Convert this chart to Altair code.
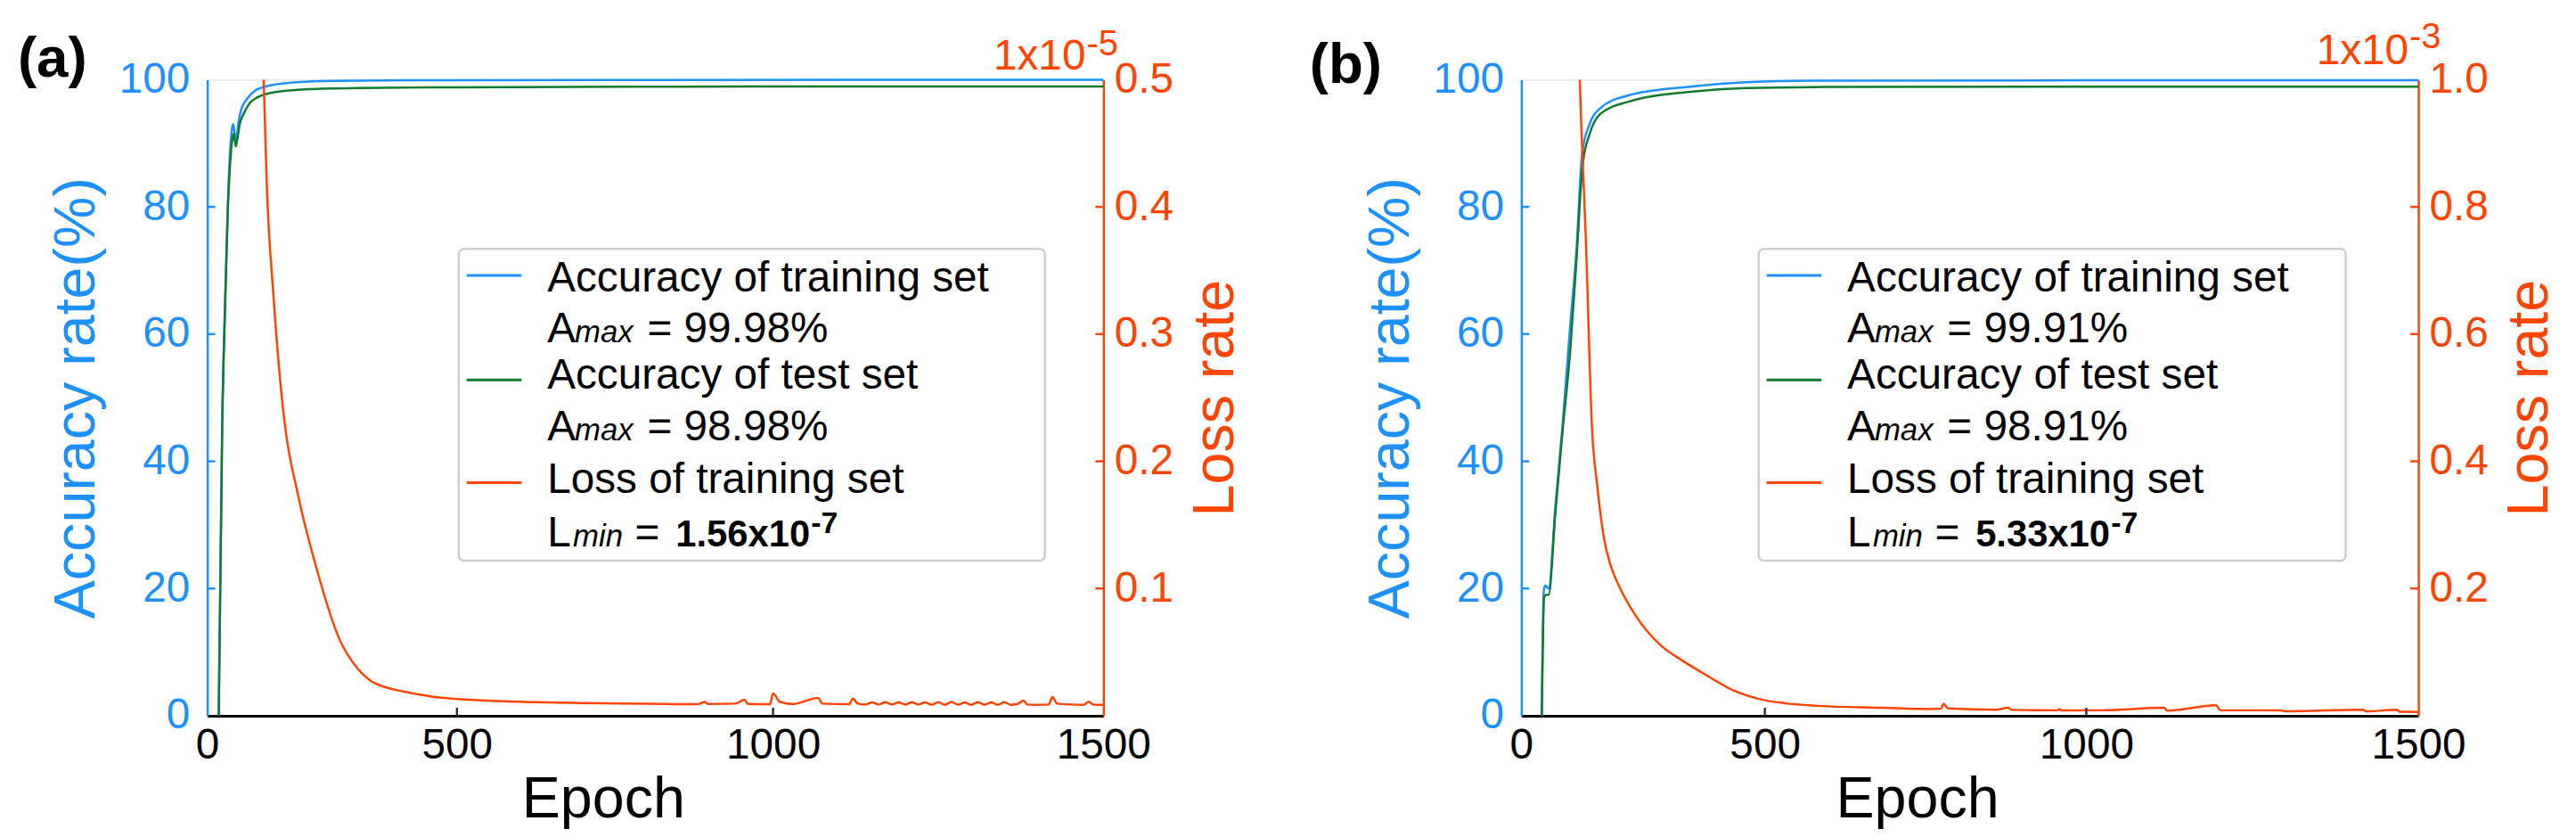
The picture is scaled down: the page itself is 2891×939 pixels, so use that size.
import altair as alt
import pandas as pd

FONT = "Liberation Sans"
BLUE = "#1E90FF"
GREEN = "#127A2C"
ORANGE = "#FF4500"

# ---------------- data, panel (a) ----------------
a_train_epoch = [23, 30, 36, 41, 46, 50, 52, 55, 58, 62, 68, 80, 96, 115, 140, 180, 250, 400, 800, 1500]
a_train_acc = [0, 46, 66, 80, 89, 92.5, 93, 91.5, 90.5, 93, 95.3, 97, 98.3, 98.9, 99.3, 99.6, 99.8, 99.9, 99.95, 99.98]
a_test_epoch = [23, 30, 36, 41, 46, 50, 53, 57, 60, 65, 72, 85, 100, 120, 150, 200, 300, 500, 800, 1200, 1500]
a_test_acc = [0, 46, 65, 79, 87, 90.5, 91.5, 89.5, 90.5, 93, 94.5, 96.3, 97.2, 97.8, 98.2, 98.5, 98.7, 98.8, 98.9, 98.95, 98.95]
a_loss_epoch = [100, 113, 119, 133, 154, 181, 218, 266, 295, 325, 360, 393, 450, 520, 600, 700, 829, 880, 892, 897,
                 940, 955, 960, 995, 1000, 1010, 1030, 1068, 1075, 1115, 1121, 1128, 1140, 1150, 1160, 1170, 1180,
                 1190, 1200, 1210, 1220, 1230, 1240, 1250, 1260, 1270, 1280, 1290, 1300, 1310, 1320, 1330, 1340,
                 1350, 1360, 1370, 1379, 1385, 1400, 1417, 1423, 1430, 1450, 1470, 1478, 1485, 1500]
a_loss = [0.65, 0.50, 0.42, 0.328, 0.233, 0.175, 0.117, 0.059, 0.040, 0.028, 0.022, 0.019, 0.015, 0.0125, 0.011,
          0.010, 0.0092, 0.009, 0.0108, 0.0092, 0.0095, 0.0125, 0.0093, 0.009, 0.0175, 0.011, 0.0092, 0.014,
          0.0095, 0.009, 0.0135, 0.0095, 0.0088, 0.0105, 0.0088, 0.0106, 0.0088, 0.0105, 0.0087, 0.0106, 0.0088,
          0.0104, 0.0087, 0.0106, 0.0086, 0.0108, 0.0087, 0.0104, 0.0086, 0.0107, 0.0087, 0.0104, 0.0086, 0.0106,
          0.0086, 0.0092, 0.0118, 0.0088, 0.0086, 0.0088, 0.0146, 0.0095, 0.0088, 0.0086, 0.011, 0.0087, 0.0085]
a_loss_ticks = [0.1, 0.2, 0.3, 0.4, 0.5]
a_legend = ["Accuracy of training set", "99.98%", "Accuracy of test set", "98.98%", "Loss of training set", "1.56x10", "-7"]

# ---------------- data, panel (b) ----------------
b_train_epoch = [42, 46, 49, 56, 70, 85, 100, 113, 125, 140, 162, 218, 347, 462, 600, 1000, 1500]
b_train_acc = [0, 19.5, 20.5, 20, 33, 46, 61, 73, 88.5, 93, 95.5, 97.5, 98.9, 99.6, 99.85, 99.9, 99.91]
b_test_epoch = [42, 47, 52, 56, 70, 85, 100, 113, 126, 140, 162, 218, 347, 462, 600, 1000, 1500]
b_test_acc = [0, 18.7, 19, 19, 32, 45, 57, 71.4, 86.7, 91.4, 94.6, 96.5, 98.1, 98.7, 98.85, 98.9, 98.91]
b_loss_epoch = [110, 120, 133, 145, 156, 169, 183, 200, 235, 287, 330, 375, 435, 496, 583, 682, 759, 774, 778, 785,
                860, 878, 885, 955, 958, 962, 1024, 1117, 1122, 1195, 1202, 1267, 1293, 1300, 1417, 1421, 1468,
                1472, 1500]
b_loss = [1.3, 1.0, 0.737, 0.454, 0.361, 0.282, 0.237, 0.205, 0.157, 0.110, 0.087, 0.066, 0.040, 0.025, 0.0155,
          0.0125, 0.0105, 0.011, 0.019, 0.0115, 0.0095, 0.0125, 0.0092, 0.0085, 0.0105, 0.0082, 0.0085, 0.0125,
          0.008, 0.0165, 0.0085, 0.0085, 0.0082, 0.007, 0.0095, 0.0068, 0.0095, 0.0062, 0.006]
b_loss_ticks = [0.2, 0.4, 0.6, 0.8, 1.0]
b_legend = ["Accuracy of training set", "99.91%", "Accuracy of test set", "98.91%", "Loss of training set", "5.33x10", "-7"]

x_ticks = [0, 500, 1000, 1500]
acc_ticks = [0, 20, 40, 60, 80, 100]

H = 718


def txt(s, x, y, size, color="black", weight="normal", style="normal", align="left", font=FONT):
    return alt.Chart(alt.Data(values=[{}])).mark_text(
        text=s, fontSize=size, color=color, fontWeight=weight, fontStyle=style,
        align=align, baseline="alphabetic", font=font
    ).encode(x=alt.value(x), y=alt.value(y))


def panel(tag, tag_pos, exp, exp_pos, tr_e, tr_a, te_e, te_a, lo_e, lo_v, lo_ticks, leg, x_range, W, lg):
    xscale = alt.Scale(domain=x_ticks, range=x_range, nice=False, zero=False)
    xaxis = alt.Axis(values=x_ticks, format="d", labelFontSize=48, labelFont=FONT, labelColor="black",
                     labelPadding=10, labelFlush=False, ticks=False, tickSize=0, domainColor="black",
                     domainWidth=3, title="Epoch", titleFontSize=65, titleFont=FONT, titleFontWeight="normal",
                     titleColor="black", titleX=447, titleY=114, titleBaseline="alphabetic", titleAlign="center",
                     grid=False, labelOverlap=False)
    xenc = alt.X("epoch:Q", scale=xscale, axis=xaxis)
    acc_scale = alt.Scale(domain=[0, 100], nice=False, zero=False)
    loss_max = lo_ticks[-1]
    loss_scale = alt.Scale(domain=[0, loss_max], nice=False, zero=False)
    left_axis = alt.Axis(values=acc_ticks, labelFontSize=48, labelFont=FONT, labelColor=BLUE, labelPadding=20,
                         ticks=False, tickSize=0, domainColor=BLUE, domainWidth=2.5, title="Accuracy rate(%)",
                         titleColor=BLUE, titleFontSize=65, titleFont=FONT, titleFontWeight="normal",
                         titlePadding=14, grid=False, labelFlush=False)
    right_axis = alt.Axis(orient="right", values=lo_ticks, format=".1f", labelFontSize=48, labelFont=FONT,
                          labelColor=ORANGE, labelPadding=12, ticks=False, tickSize=0, domainColor=ORANGE,
                          domainWidth=2.5, title="Loss rate", titleColor=ORANGE, titleFontSize=65, titleFont=FONT,
                          titleFontWeight="normal", titleAngle=270, titleBaseline="top", titlePadding=16,
                          grid=False, labelFlush=False)

    train = alt.Chart(pd.DataFrame({"epoch": tr_e, "v": tr_a})).mark_line(
        color=BLUE, strokeWidth=2.5, interpolate="monotone").encode(
        x=xenc, y=alt.Y("v:Q", scale=acc_scale, axis=left_axis))
    test = alt.Chart(pd.DataFrame({"epoch": te_e, "v": te_a})).mark_line(
        color=GREEN, strokeWidth=2.5, interpolate="monotone").encode(
        x=xenc, y=alt.Y("v:Q", scale=acc_scale, axis=None))
    loss = alt.Chart(pd.DataFrame({"epoch": lo_e, "v": lo_v})).mark_line(
        color=ORANGE, strokeWidth=2.5, clip=True, interpolate="monotone").encode(
        x=xenc, y=alt.Y("v:Q", scale=loss_scale, axis=right_axis))

    lt = alt.Chart(pd.DataFrame({"t": acc_ticks[1:-1]})).mark_rule(color=BLUE, strokeWidth=2.5).encode(
        y=alt.Y("t:Q", scale=acc_scale, axis=None), x=alt.value(0), x2=alt.value(9))
    rt = alt.Chart(pd.DataFrame({"t": lo_ticks[:-1]})).mark_rule(color=ORANGE, strokeWidth=2.5).encode(
        y=alt.Y("t:Q", scale=loss_scale, axis=None), x=alt.value(W - 9), x2=alt.value(W))
    bt = alt.Chart(pd.DataFrame({"epoch": x_ticks[1:-1]})).mark_rule(color="#333333", strokeWidth=2.5).encode(
        x=xenc, y=alt.value(H - 9), y2=alt.value(H))

    bx0, bx1, tx = lg
    box = alt.Chart(alt.Data(values=[{}])).mark_rect(fill="white", stroke="#cfcfcf", strokeWidth=2.5,
                                                     cornerRadius=6).encode(
        x=alt.value(bx0), x2=alt.value(bx1), y=alt.value(191), y2=alt.value(543))
    lx0 = bx0 + 9
    lx1 = bx0 + 71

    def sample(color, y):
        return alt.Chart(alt.Data(values=[{}])).mark_rule(color=color, strokeWidth=3).encode(
            x=alt.value(lx0), x2=alt.value(lx1), y=alt.value(y))

    layers = [train, test, loss, lt, rt, bt, box,
              sample(BLUE, 221), sample(GREEN, 339), sample(ORANGE, 455),
              txt(leg[0], tx, 239, 48),
              txt("A", tx, 296, 48), txt("max", tx + 31, 296, 35, style="italic"), txt("= " + leg[1], tx + 113, 296, 48),
              txt(leg[2], tx, 349, 48),
              txt("A", tx, 407, 48), txt("max", tx + 31, 407, 35, style="italic"), txt("= " + leg[3], tx + 113, 407, 48),
              txt(leg[4], tx, 467, 48),
              txt("L", tx, 527, 48), txt("min", tx + 29, 527, 35, style="italic"), txt("=", tx + 99, 527, 48),
              txt(leg[5], tx + 145, 527, 42, weight="bold"), txt(leg[6], tx + 298, 512, 34, weight="bold"),
              txt(tag, tag_pos[0], tag_pos[1], 64, weight="bold"),
              txt("1x10", exp_pos[0], exp_pos[1], 48, color=ORANGE, align="right"),
              txt(exp, exp_pos[0] + 1, exp_pos[2], 40, color=ORANGE)]
    return alt.layer(*layers).resolve_scale(y="independent").properties(width=W, height=H)


pa = panel("(a)", (-214, -3), "-5", (992, -11, -28), a_train_epoch, a_train_acc, a_test_epoch, a_test_acc,
           a_loss_epoch, a_loss, a_loss_ticks, a_legend, [0, 282, 639, 1012], 1012, (284, 946, 384))
pb = panel("(b)", (-239, 4), "-3", (1002, -18, -36), b_train_epoch, b_train_acc, b_test_epoch, b_test_acc,
           b_loss_epoch, b_loss, b_loss_ticks, b_legend, [0, 275, 638, 1013], 1013, (268, 931, 368))

chart = alt.hconcat(pa, pb, spacing=472, bounds="flush").properties(
    padding={"left": 11, "top": 10, "right": 10, "bottom": 5}
).configure_view(stroke="black", strokeWidth=2.5).configure(background="white")

chart.save("out.html", embed_options={"renderer": "svg", "actions": False})
